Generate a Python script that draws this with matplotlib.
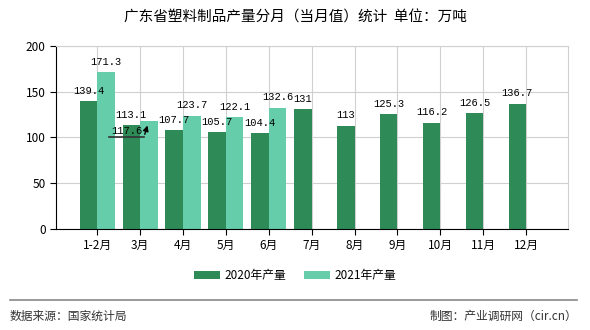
import matplotlib
matplotlib.use('Agg')
import numpy as np
import matplotlib.pyplot as plt
from matplotlib.lines import Line2D

plt.rcParams['font.family'] = ['Noto Sans CJK SC', 'DejaVu Sans']

# Datos
months = ['1-2月', '3月', '4月', '5月', '6月', '7月', '8月', '9月', '10月', '11月', '12月']
y2020 = [139.4, 113.1, 107.7, 105.7, 104.4, 131, 113, 125.3, 116.2, 126.5, 136.7]
y2021 = [171.3, 117.6, 123.7, 122.1, 132.6]
series_names = ['2020年产量', '2021年产量']
c2020 = '#2E8B57'
c2021 = '#66CDAA'

fig = plt.figure(figsize=(5.9, 3.3), dpi=100)
ax = fig.add_axes([0.095, 0.306, 0.868, 0.555])

w = 0.41
x = np.arange(len(months))
x21 = np.arange(len(y2021))
b1 = ax.bar(x - w / 2, y2020, width=w, color=c2020, label=series_names[0], zorder=2)
b2 = ax.bar(x21 + w / 2, y2021, width=w, color=c2021, label=series_names[1], zorder=2)

num_font = dict(family='Liberation Mono', fontsize=7.5)

# Etiquetas de valores
for xi, v in zip(x - w / 2, y2020):
    ax.annotate(f'{v:g}', (xi, v), xytext=(0, 4), textcoords='offset points',
                ha='center', va='bottom', **num_font)
for xi, v in zip(x21 + w / 2, y2021):
    if v == 117.6:
        continue
    ax.annotate(f'{v:g}', (xi, v), xytext=(0, 4), textcoords='offset points',
                ha='center', va='bottom', **num_font)

# Etiqueta desplazada con flecha (3月 2021)
ax.plot([0.27, 1.09], [100.5, 100.5], color='#333333', lw=1.2, zorder=3)
ax.annotate('', xy=(1.19, 116), xytext=(1.09, 100.5),
            arrowprops=dict(arrowstyle='-|>', color='black', lw=1, mutation_scale=8), zorder=3)
ax.text(0.68, 102, '117.6', ha='center', va='bottom', **num_font)

ax.set_xlim(-0.96, 10.98)
ax.set_ylim(0, 200)
ax.set_yticks([0, 50, 100, 150, 200])
ax.set_xticks(x)
ax.set_xticklabels(months, fontsize=8.5)
ax.tick_params(axis='y', labelsize=8.5, length=4)
ax.tick_params(axis='x', length=4)

ax.grid(True, color='#d0d0d0', linewidth=0.8, zorder=0)
ax.set_axisbelow(True)
ax.spines['top'].set_color('#d0d0d0')
ax.spines['right'].set_color('#d0d0d0')
ax.spines['left'].set_color('black')
ax.spines['bottom'].set_color('black')

fig.text(0.5, 0.948, '广东省塑料制品产量分月（当月值）统计  单位：万吨',
         ha='center', va='center', fontsize=10.5)

fig.legend(handles=[b1, b2], loc='center', bbox_to_anchor=(0.5, 0.164), ncol=2,
           frameon=False, fontsize=8.5, handlelength=2.2, handleheight=0.7,
           columnspacing=1.5, handletextpad=0.4)

fig.add_artist(Line2D([0.017, 0.978], [0.091, 0.091], color='#888888', lw=1.2))
fig.text(0.017, 0.042, '数据来源：国家统计局', ha='left', va='center', fontsize=8.5, color='#333333')
fig.text(0.978, 0.042, '制图：产业调研网（cir.cn）', ha='right', va='center', fontsize=8.5, color='#333333')

fig.savefig('out.png', dpi=100)
